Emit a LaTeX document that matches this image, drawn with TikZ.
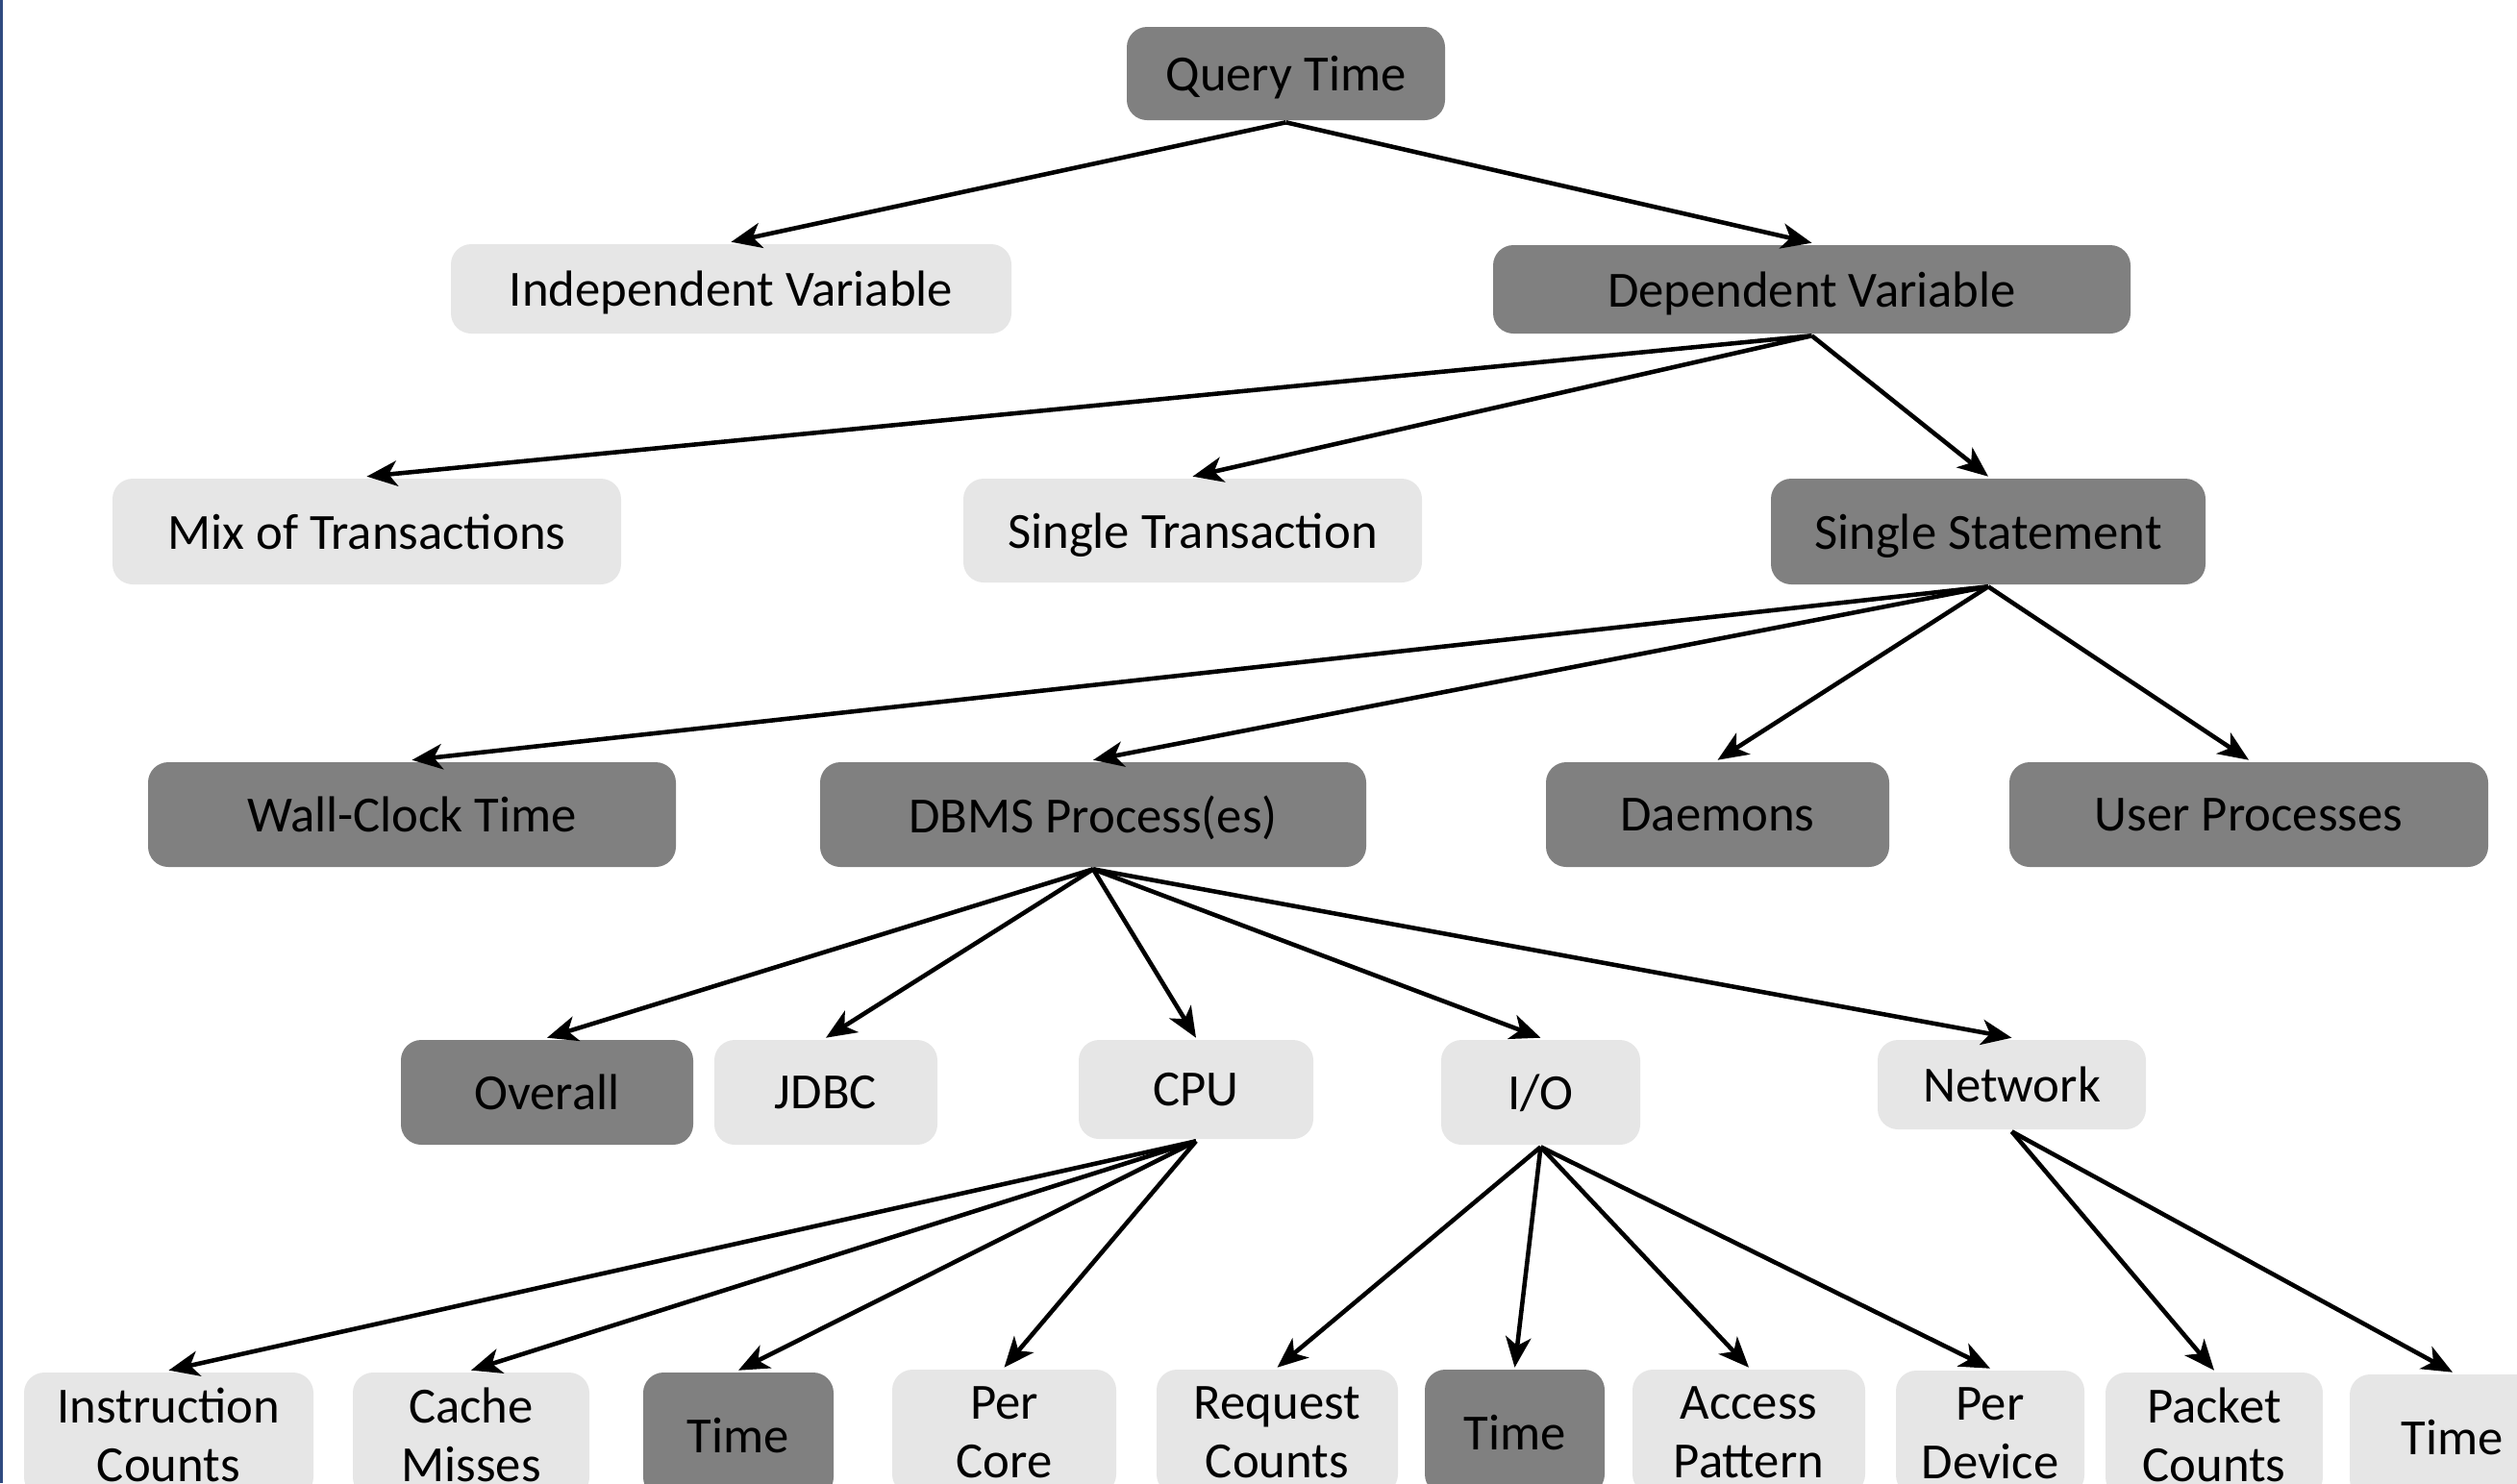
\documentclass[tikz,border=0pt]{standalone}
\usepackage{fontspec}
\setmainfont{Carlito}
\usetikzlibrary{arrows.meta,positioning}
\definecolor{boxdark}{RGB}{128,128,128}
\definecolor{boxlight}{RGB}{230,230,230}
\definecolor{slideblue}{RGB}{47,74,128}

\begin{document}
\begin{tikzpicture}[>={Stealth[length=9pt,width=7.5pt,inset=2.5pt]},line width=1.3pt,
  box/.style={rounded corners=6pt,inner sep=0pt,align=center,text depth=0pt,font=\fontsize{15}{17.4}\selectfont},
  twoline/.style={text depth={}},
  dark/.style={box,fill=boxdark},
  light/.style={box,fill=boxlight}]

  \clip (0,0) rectangle (26.18,-15.43);
  \fill[slideblue] (0,0) rectangle (0.03,-15.43);

  % levels 1-3
  \node[dark,minimum width=3.31cm,minimum height=0.97cm] (qt) at (13.375,-0.765) {Query Time};
  \node[light,minimum width=5.83cm,minimum height=0.93cm] (iv) at (7.605,-3.005) {Independent Variable};
  \node[dark,minimum width=6.63cm,minimum height=0.92cm] (dv) at (18.845,-3.01) {Dependent Variable};
  \node[light,minimum width=5.29cm,minimum height=1.10cm] (mix) at (3.815,-5.53) {Mix of Transactions};
  \node[light,minimum width=4.77cm,minimum height=1.08cm] (st) at (12.405,-5.52) {Single Transaction};
  \node[dark,minimum width=4.52cm,minimum height=1.10cm] (ss) at (20.68,-5.53) {Single Statement};

  % level 4
  \node[dark,minimum width=5.49cm,minimum height=1.09cm] (wc) at (4.285,-8.475) {Wall-Clock Time};
  \node[dark,minimum width=5.68cm,minimum height=1.09cm] (dbms) at (11.37,-8.475) {DBMS Process(es)};
  \node[dark,minimum width=3.57cm,minimum height=1.09cm] (dae) at (17.865,-8.475) {Daemons};
  \node[dark,minimum width=4.98cm,minimum height=1.09cm] (up) at (23.39,-8.475) {User Processes};

  % level 5
  \node[dark,minimum width=3.04cm,minimum height=1.09cm] (ov) at (5.69,-11.365) {Overall};
  \node[light,minimum width=2.32cm,minimum height=1.09cm] (jdbc) at (8.59,-11.365) {JDBC};
  \node[light,minimum width=2.44cm,minimum height=1.03cm] (cpu) at (12.44,-11.335) {CPU};
  \node[light,minimum width=2.07cm,minimum height=1.09cm] (io) at (16.025,-11.365) {I/O};
  \node[light,minimum width=2.79cm,minimum height=0.93cm] (net) at (20.925,-11.285) {Network};

  % level 6
  \node[light,twoline,minimum width=3.01cm,minimum height=1.30cm] (ic) at (1.755,-14.93) {Instruction\\Counts};
  \node[light,twoline,minimum width=2.46cm,minimum height=1.30cm] (cm) at (4.90,-14.93) {Cache\\Misses};
  \node[dark,minimum width=1.98cm,minimum height=1.30cm] (ct) at (7.68,-14.93) {Time};
  \node[light,twoline,minimum width=2.33cm,minimum height=1.30cm] (pc) at (10.445,-14.90) {Per\\Core};
  \node[light,twoline,minimum width=2.51cm,minimum height=1.30cm] (rc) at (13.285,-14.90) {Request\\Counts};
  \node[dark,minimum width=1.87cm,minimum height=1.30cm] (it) at (15.755,-14.90) {Time};
  \node[light,twoline,minimum width=2.42cm,minimum height=1.30cm] (ap) at (18.19,-14.90) {Access\\Pattern};
  \node[light,twoline,minimum width=1.96cm,minimum height=1.30cm] (pd) at (20.70,-14.91) {Per\\Device};
  \node[light,twoline,minimum width=2.26cm,minimum height=1.30cm] (pk) at (23.03,-14.93) {Packet\\Counts};
  \node[light,minimum width=2.14cm,minimum height=1.30cm] (nt) at (25.51,-14.95) {Time};

  \path[->] (qt.south) edge (iv.north)
                       edge (dv.north)
            (dv.south) edge (mix.north)
                       edge (st.north)
                       edge (ss.north)
            (ss.south) edge (wc.north)
                       edge (dbms.north)
                       edge (dae.north)
                       edge (up.north)
            (dbms.south) edge (ov.north)
                         edge (jdbc.north)
                         edge (cpu.north)
                         edge (io.north)
                         edge (net.north)
            (cpu.south) edge (ic.north)
                        edge (cm.north)
                        edge (ct.north)
                        edge (pc.north)
            (io.south) edge (rc.north)
                       edge (it.north)
                       edge (ap.north)
                       edge (pd.north)
            (net.south) edge (pk.north)
                        edge (nt.north);
\end{tikzpicture}
\end{document}
